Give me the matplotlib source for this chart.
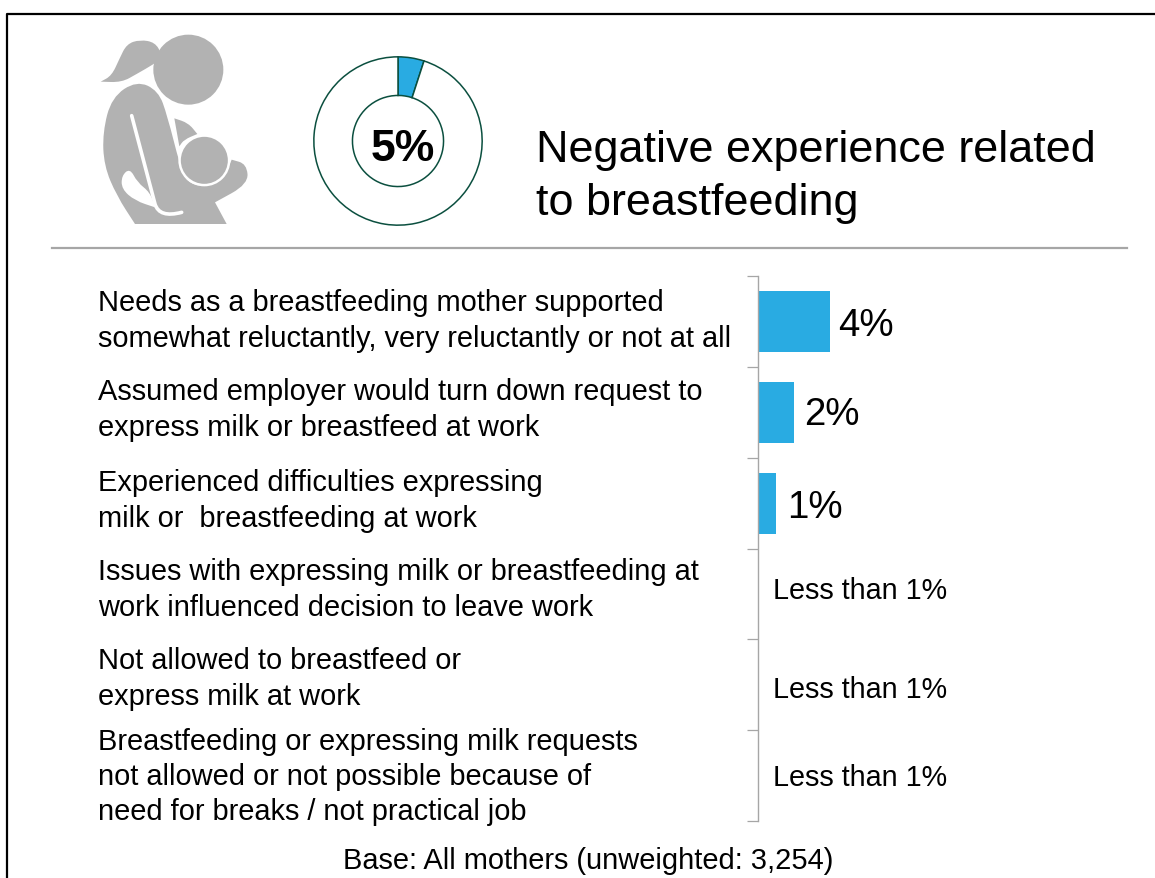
import matplotlib
matplotlib.use("Agg")
import matplotlib.pyplot as plt
from matplotlib.patches import Circle, PathPatch
from matplotlib.path import Path

plt.rcParams['font.family'] = ['Liberation Sans', 'DejaVu Sans']

W, H = 1155, 879
BLUE = '#29abe2'
GREEN = '#0b4f3f'
GREY = '#b2b2b2'

# data
categories = [
    "Needs as a breastfeeding mother supported\nsomewhat reluctantly, very reluctantly or not at all",
    "Assumed employer would turn down request to\nexpress milk or breastfeed at work",
    "Experienced difficulties expressing\nmilk or  breastfeeding at work",
    "Issues with expressing milk or breastfeeding at\nwork influenced decision to leave work",
    "Not allowed to breastfeed or\nexpress milk at work",
    "Breastfeeding or expressing milk requests\nnot allowed or not possible because of\nneed for breaks / not practical job",
]
values = [4, 2, 1, 0, 0, 0]
value_labels = ["4%", "2%", "1%", "Less than 1%", "Less than 1%", "Less than 1%"]
donut_values = [5, 95]
donut_label = "5%"
title = "Negative experience related\nto breastfeeding"
base_note = "Base: All mothers (unweighted: 3,254)"

# pixel positions of the text blocks
label_y = [321, 410, 501, 590, 679, 777]
value_y = [326, 415, 508, 591, 690, 778]
value_gap = [8, 10, 11, 0, 0, 0]


def axes_px(x0, y0, x1, y1):
    # axes from pixel box, y counted from the top
    return fig.add_axes([x0 / W, 1 - y1 / H, (x1 - x0) / W, (y1 - y0) / H])


def z(points):
    return [(80 + px / 3, 20 + py / 3) for px, py in points]


def blob(points, color):
    # closed smooth outline, a point given twice stays a corner
    pts = z(points)
    n = len(pts)
    mid = [((pts[i][0] + pts[(i + 1) % n][0]) / 2, (pts[i][1] + pts[(i + 1) % n][1]) / 2) for i in range(n)]
    verts = [mid[-1]]
    codes = [Path.MOVETO]
    for i in range(n):
        verts += [pts[i], mid[i]]
        codes += [Path.CURVE3, Path.CURVE3]
    bg.add_patch(PathPatch(Path(verts, codes), fc=color, ec='none'))


fig = plt.figure(figsize=(W / 100, H / 100), dpi=100)

# overlay in pixel coords for frame, icon and text
bg = fig.add_axes([0, 0, 1, 1])
bg.set_xlim(0, W)
bg.set_ylim(H, 0)
bg.axis('off')

bg.plot([7, 7, W], [H, 15, 15], color='black', lw=1.6)
bg.plot([52, 1127], [249, 249], color='#a6a6a6', lw=1.6)

# icon
blob([(245, 105), (225, 70), (180, 62), (140, 75), (118, 120), (95, 170), (62, 188), (62, 188),
      (125, 190), (170, 165), (222, 135), (240, 120)], GREY)
blob([(165, 615), (165, 615), (110, 530), (72, 440), (68, 340), (95, 235), (170, 185), (235, 215),
      (262, 290), (300, 440), (320, 490), (375, 505), (430, 480), (455, 422), (455, 422), (500, 435),
      (505, 495), (405, 550), (405, 550), (440, 615), (440, 615)], GREY)
blob([(283, 298), (283, 298), (325, 312), (352, 345), (352, 345), (312, 362), (298, 382), (298, 382)], GREY)
hx, hy = z([(325, 152)])[0]
bg.add_patch(Circle((hx, hy), 35, fc=GREY, ec='none'))
cx, cy = z([(373, 424)])[0]
bg.add_patch(Circle((cx, cy), 26, fc='white', ec='none'))
bg.add_patch(Circle((cx, cy), 23.5, fc=GREY, ec='none'))

# white strap and hand gap on the body
strap = z([(155, 290), (225, 555), (238, 598), (305, 580)])
bg.add_patch(PathPatch(Path(strap, [Path.MOVETO, Path.LINETO, Path.CURVE3, Path.CURVE3]),
                       fc='none', ec='white', lw=2.6, capstyle='round'))
blob([(125, 470), (150, 448), (172, 490), (210, 520), (225, 565), (225, 565), (165, 545), (125, 510)], 'white')

bg.text(536, 177, title, fontsize=32.4, va='center', ha='left', linespacing=1.37)
for txt, y in zip(categories, label_y):
    bg.text(98, y, txt, fontsize=20.85, va='center', ha='left', linespacing=1.32)
bg.text(588.5, 861, base_note, fontsize=20.9, va='center', ha='center')

# donut
dax = axes_px(313, 57, 483, 227)
dax.pie(donut_values, startangle=90, counterclock=False, colors=[BLUE, 'white'], radius=1,
        wedgeprops=dict(width=1 - 46 / 85, edgecolor=GREEN, linewidth=1.1))
dax.set_xlim(-1.01, 1.01)
dax.set_ylim(-1.01, 1.01)
dax.text(0.06, -0.09, donut_label, fontsize=32, fontweight='bold', ha='center', va='center')

# bars, one % is 18 px
ax = axes_px(758, 277, 1155, 822)
ax.patch.set_alpha(0)
pos = list(range(len(values)))
ax.barh(pos, values, height=0.67, color=BLUE)
ax.set_xlim(0, (1155 - 758) / 18)
ax.set_ylim(len(values) - 0.5, -0.5)
for s in ['top', 'right', 'bottom']:
    ax.spines[s].set_visible(False)
ax.spines['left'].set_color('#a6a6a6')
ax.spines['left'].set_linewidth(1.0)
ax.xaxis.set_visible(False)
ax.set_yticks([p - 0.5 for p in pos] + [len(values) - 0.5])
ax.set_yticklabels([])
ax.tick_params(axis='y', length=8, width=0.9, color='#a6a6a6')

for v, lab, y, gap in zip(values, value_labels, value_y, value_gap):
    px = 758 + v * 18
    if v > 0:
        bg.text(px + gap, y, lab, fontsize=27.7, va='center', ha='left')
    else:
        bg.text(773, y, lab, fontsize=20.7, va='center', ha='left')

fig.savefig('out.png', dpi=100)
